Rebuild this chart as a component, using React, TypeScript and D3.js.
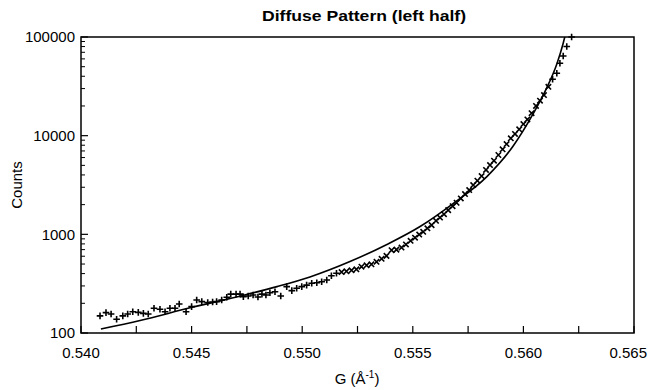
import React from "react";
import * as d3 from "d3";

// Measured data points (G in Å^-1, counts)
const pointG = [
  0.54086, 0.54113, 0.54136, 0.54161, 0.54189, 0.54211, 0.54234, 0.54259, 0.54282, 0.54304,
  0.5433, 0.54357, 0.5438, 0.54402, 0.54425, 0.54444, 0.54475, 0.545, 0.54523, 0.54546,
  0.54573, 0.54595, 0.54613, 0.54636, 0.54659, 0.54677, 0.54701, 0.54719, 0.54734, 0.54756,
  0.54778, 0.548, 0.54818, 0.54836, 0.54854, 0.54877, 0.54903, 0.5493, 0.54953, 0.54975,
  0.54998, 0.5502, 0.55043, 0.55066, 0.55088, 0.55111, 0.55132, 0.55155, 0.55178, 0.552,
  0.55223, 0.55245, 0.55268, 0.55291, 0.55313, 0.55336, 0.55359, 0.55381, 0.55404, 0.55426,
  0.55449, 0.55469, 0.5549, 0.5551, 0.55529, 0.55547, 0.55566, 0.55585, 0.55605, 0.55623,
  0.55641, 0.5566, 0.5568, 0.55698, 0.55717, 0.55736, 0.55755, 0.55773, 0.55792, 0.55811,
  0.55831, 0.55849, 0.55867, 0.55887, 0.55906, 0.55924, 0.55943, 0.55962, 0.55981, 0.56,
  0.56018, 0.56037, 0.56057, 0.56075, 0.56093, 0.56113, 0.56132, 0.56151, 0.56165, 0.5618,
  0.56196, 0.56218,
];
const pointCounts = [
  149, 161, 156, 138, 149, 156, 164, 162, 158, 156,
  178, 174, 164, 178, 178, 197, 164, 185, 216, 208,
  204, 206, 208, 216, 230, 248, 248, 248, 233, 237,
  243, 232, 248, 243, 256, 262, 237, 295, 269, 284,
  295, 306, 319, 323, 331, 344, 380, 403, 415, 422,
  432, 442, 470, 485, 497, 527, 565, 605, 690, 700,
  735, 790, 860, 925, 995, 1060, 1150, 1240, 1370, 1480,
  1600, 1760, 1930, 2090, 2310, 2560, 2810, 3160, 3500, 3900,
  4490, 5040, 5580, 6370, 7280, 8230, 9400, 10400, 11600, 13100,
  14600, 16900, 20000, 22600, 25800, 31300, 37300, 42900, 54100, 64200,
  80000, 100000,
];

// Fitted curve
const fitG = [
  0.5409, 0.54267, 0.54493, 0.54732, 0.54886, 0.55035, 0.55216, 0.55383, 0.55533,
  0.55682, 0.55835, 0.55953, 0.56043, 0.56107, 0.56152, 0.56179, 0.56187, 0.56194,
];
const fitCounts = [
  110, 134, 180, 240, 295, 370, 530, 790, 1200,
  2050, 3850, 7800, 16500, 31000, 54000, 85000, 100000, 116000,
];

const xTickValues = [0.54, 0.5425, 0.545, 0.5475, 0.55, 0.5525, 0.555, 0.5575, 0.56, 0.5625, 0.565];
const xTickLabels = ["0.540", "0.545", "0.550", "0.555", "0.560", "0.565"];
const yTickLabels = ["100", "1000", "10000", "100000"];

const W = 649;
const H = 390;
const L = 81, R = 634, T = 37, B = 333;
const FONT = "'Liberation Sans', Arial, Helvetica, sans-serif";

export default function App() {
  const x = d3.scaleLinear().domain([0.54, 0.565]).range([L, R]);
  const y = d3.scaleLog().domain([100, 100000]).range([B, T]);

  const fitData = fitG.map((g, i) => [g, fitCounts[i]] as [number, number]);
  const line = d3
    .line<[number, number]>()
    .x((d) => x(d[0]))
    .y((d) => y(d[1]))
    .curve(d3.curveMonotoneX);

  const minorY: number[] = [];
  for (let e = 2; e < 5; e++) {
    for (let m = 2; m <= 9; m++) minorY.push(m * Math.pow(10, e));
  }
  const majorY = yTickLabels.map((t) => +t);

  return (
    <svg
      width={W}
      height={H}
      style={{ position: "absolute", left: 0, top: 0, background: "#fff" }}
      fontFamily={FONT}
    >
      <rect x={0} y={0} width={W} height={H} fill="#fff" />
      <text x={364} y={21} textAnchor="middle" fontSize={15} fontWeight="bold" textLength={204} lengthAdjust="spacingAndGlyphs">
        Diffuse Pattern (left half)
      </text>

      <defs>
        <clipPath id="plotclip">
          <rect x={L} y={T} width={R - L} height={B - T} />
        </clipPath>
      </defs>

      {/* fit curve */}
      <path d={line(fitData) || ""} fill="none" stroke="#000" strokeWidth={1.6} clipPath="url(#plotclip)" />

      {/* data markers */}
      {pointG.map((g, i) => {
        const cx = x(g);
        const cy = y(pointCounts[i]);
        const cross = g > 0.5517 && g < 0.5613;
        const s = cross ? 2.7 : 3.3;
        const d = cross
          ? `M${cx - s},${cy - s}L${cx + s},${cy + s}M${cx - s},${cy + s}L${cx + s},${cy - s}`
          : `M${cx - s},${cy}L${cx + s},${cy}M${cx},${cy - s}L${cx},${cy + s}`;
        return <path key={i} d={d} stroke="#000" strokeWidth={1.6} fill="none" />;
      })}

      {/* frame */}
      <rect x={L} y={T} width={R - L} height={B - T} fill="none" stroke="#000" strokeWidth={1.5} />

      {/* x ticks */}
      {xTickValues.map((v, i) => (
        <line key={"xt" + i} x1={x(v)} x2={x(v)} y1={B} y2={B - 7} stroke="#000" strokeWidth={1.2} />
      ))}
      {xTickLabels.map((t, i) => {
        const last = i === xTickLabels.length - 1;
        return (
          <text
            key={"xl" + t}
            x={last ? 647 : x(+t)}
            y={358}
            textAnchor={last ? "end" : "middle"}
            fontSize={15}
          >
            {t}
          </text>
        );
      })}

      {/* y ticks */}
      {majorY.map((v) => (
        <line key={"ym" + v} x1={L} x2={L + 7} y1={y(v)} y2={y(v)} stroke="#000" strokeWidth={1.2} />
      ))}
      {minorY.map((v) => (
        <line key={"yn" + v} x1={L} x2={L + 4} y1={y(v)} y2={y(v)} stroke="#000" strokeWidth={1} />
      ))}
      {yTickLabels.map((t) => (
        <text key={"yl" + t} x={75} y={y(+t)} dy="0.35em" textAnchor="end" fontSize={15}>
          {t}
        </text>
      ))}

      {/* axis titles */}
      <text x={357} y={384} textAnchor="middle" fontSize={15}>
        G (Å
        <tspan fontSize={10} dy={-6}>-1</tspan>
        <tspan dy={6}>)</tspan>
      </text>
      <text transform={`translate(22,${(T + B) / 2}) rotate(-90)`} textAnchor="middle" fontSize={15}>
        Counts
      </text>
    </svg>
  );
}
